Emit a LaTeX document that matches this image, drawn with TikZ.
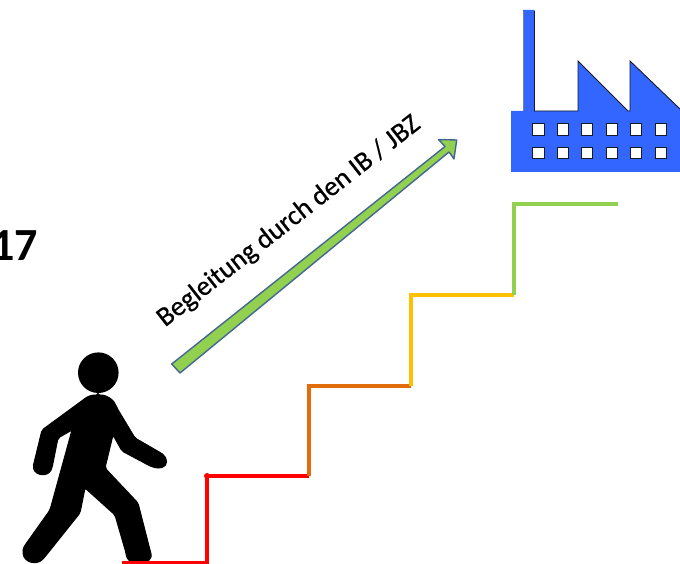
\documentclass[tikz,border=0pt]{standalone}
\usepackage{fontspec}
\setmainfont{Carlito}
\newfontfamily\labelfont[FakeBold=0.6]{Carlito}
\usepackage{tikz}
\usetikzlibrary{calc,positioning}
\definecolor{stepred}{HTML}{FF0000}
\definecolor{steporange}{HTML}{E36C0A}
\definecolor{stepyellow}{HTML}{FFC000}
\definecolor{stepgreen}{HTML}{92D050}
\definecolor{factoryblue}{HTML}{3366FF}
\definecolor{arrowedge}{HTML}{446695}
\definecolor{factoryedge}{HTML}{141A28}
\tikzset{
  stair/.style={line width=4.6pt,line cap=butt,line join=miter},
  roofline/.style={draw=factoryedge,line width=0.9pt},
  windowbox/.style={fill=white,draw=factoryedge,line width=1.1pt},
}
\begin{document}
\begin{tikzpicture}[x=1pt,y=-1pt]
\useasboundingbox (0,0) rectangle (680,564);
\node[anchor=base east,inner sep=0pt,font=\bfseries\fontsize{46}{46}\selectfont] (year) at (38.5,260) {17};
\node[rotate=38,inner sep=0pt,font=\labelfont\fontsize{27.5}{27.5}\selectfont] (label) at (289,221.5) {Begleitung durch den IB / JBZ};
\fill (98.3,372.7) circle (20.3);
\draw[fill,line width=1pt,rounded corners=2pt] (98,395) .. controls (108,395) and (114,400) .. (117,408)
  -- (135,438) -- (161,453)
  .. controls (168,458) and (168,466) .. (160,468) .. controls (156,468) and (153,467) .. (150,466)
  -- (122,451) -- (113,435) -- (105,468) -- (138,503) -- (150,550)
  .. controls (153,560) and (148,562) .. (138,562) .. controls (130,562) and (127,560) .. (126,553)
  -- (115,515) -- (85,488) -- (80,513) -- (44,558)
  .. controls (36,566) and (24,562) .. (23,552) .. controls (23,548) and (25,545) .. (28,541)
  -- (50,510) -- (72,430) -- (58,438) -- (52,468)
  .. controls (48,477) and (36,476) .. (33,467)
  -- (42,430) -- (83,400) .. controls (88,396) and (92,395) .. (98,395) -- cycle;
\coordinate (s0) at (122,563);
\coordinate (s1) at (207,563);
\coordinate (s2) at (207,476);
\coordinate (s3) at (309,476);
\coordinate (s4) at (309,386);
\coordinate (s5) at (411,386);
\coordinate (s6) at (411,295);
\coordinate (s7) at (514,295);
\coordinate (s8) at (514,204);
\coordinate (s9) at (618,204);
\draw[stair,stepred] (s0) -- (s1) -- (s2) -- (s3);
\draw[stair,steporange] (s3) -- (s4) -- (s5);
\draw[stair,stepyellow] (s5) -- (s6) -- (s7);
\draw[stair,stepgreen] (s7) -- (s8) -- (s9);
\fill[stepred] (207,476) circle (3);
\draw[fill=stepgreen,draw=arrowedge,line width=1.4pt,line join=round]
  (171.7,364) -- (445,146.5) -- (438.5,139.5) -- (456.7,140) -- (454,159) -- (449,152) -- (180,373) -- cycle;
\fill[factoryblue] (511,172) -- (511,111) -- (523,111) -- (523,10) -- (534.5,10) -- (534.5,111)
  -- (578,111) -- (578,61) -- (628,111) -- (630,111) -- (630,61) -- (680,109) -- (680,172) -- cycle;
\draw[roofline,draw=gray] (523,111) -- (523,11);
\draw[roofline] (534.5,11) -- (534.5,111) -- (578,111) -- (578,61) -- (628,111) -- (630,111) -- (630,61) -- (680,109);
\foreach \xpos in {538.5,563,587,612,636,661}
  \foreach \ypos in {129.5,153}
    \draw[windowbox] (\xpos-5.8,\ypos-5.8) rectangle (\xpos+5.8,\ypos+5.8);
\end{tikzpicture}
\end{document}
